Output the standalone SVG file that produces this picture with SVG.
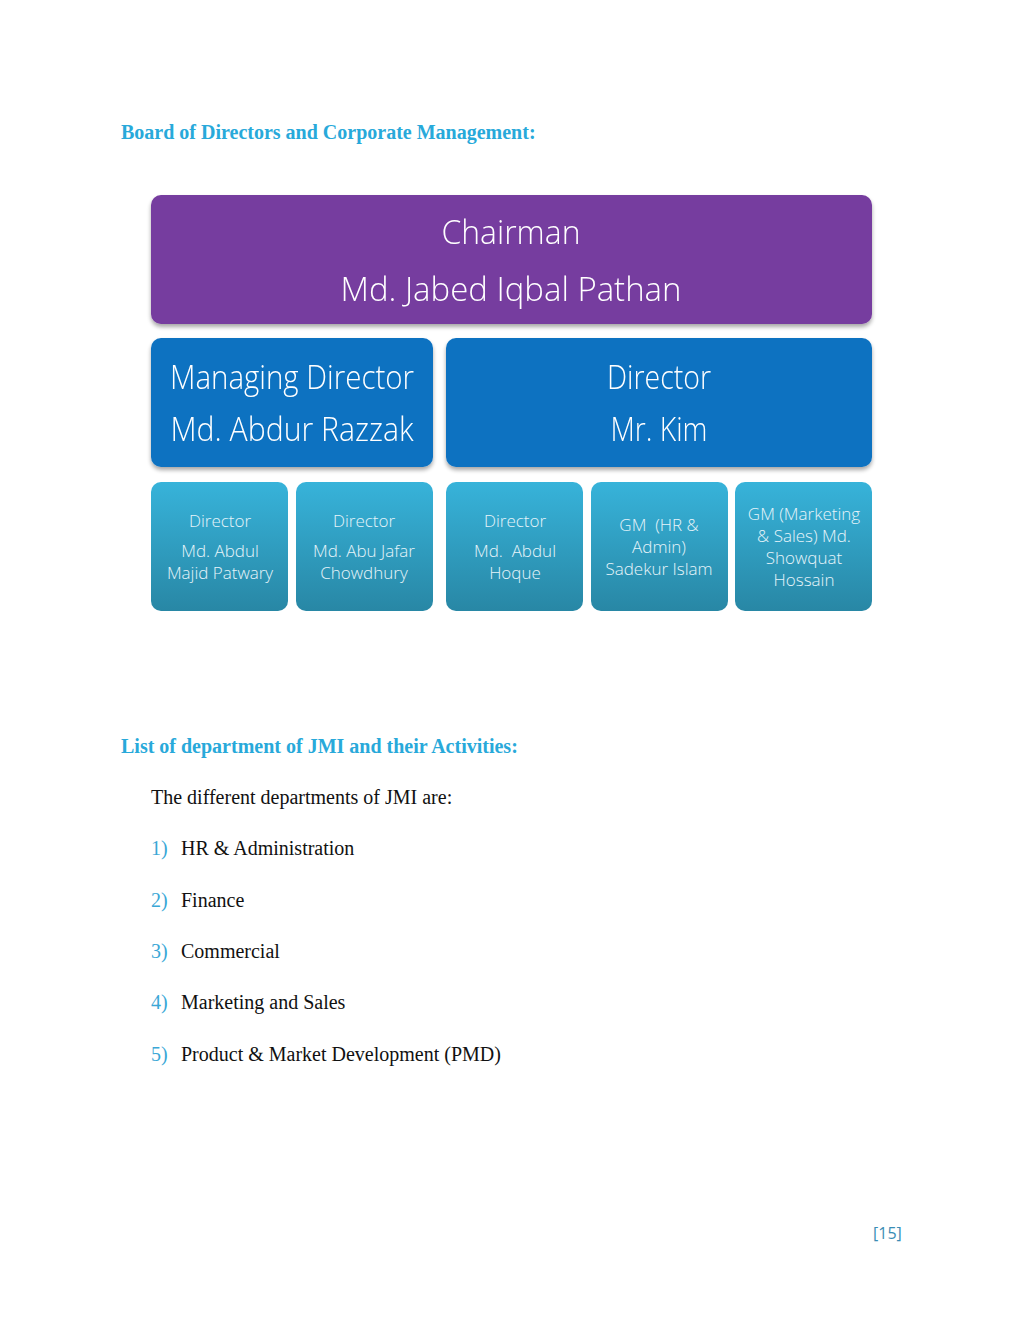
<svg xmlns="http://www.w3.org/2000/svg" width="1024" height="1326" viewBox="0 0 1024 1326">
<defs>
<linearGradient id="gTeal" x1="0" y1="0" x2="0" y2="1">
<stop offset="0" stop-color="#37B3DA"/>
<stop offset="1" stop-color="#2887A5"/>
</linearGradient>
<filter id="sh" x="-5%" y="-10%" width="110%" height="130%">
<feGaussianBlur in="SourceAlpha" stdDeviation="2"/>
<feOffset dx="0" dy="3" result="b"/>
<feComponentTransfer><feFuncA type="linear" slope="0.35"/></feComponentTransfer>
<feMerge><feMergeNode/><feMergeNode in="SourceGraphic"/></feMerge>
</filter>
</defs>
<style>
.head{font-family:"Liberation Serif",serif;font-weight:bold;font-size:20px;fill:#28A9DA}
.body{font-family:"Liberation Serif",serif;font-size:20px;fill:#111}
.num{font-family:"Liberation Serif",serif;font-size:20px;fill:#3AA7D6}
.big{font-family:"Open Sans","Liberation Sans",sans-serif;font-weight:300;font-size:33px;fill:#fff;text-anchor:middle}
.small{font-family:"Open Sans","Liberation Sans",sans-serif;font-weight:300;font-size:17px;fill:#E6F4FA;text-anchor:middle;white-space:pre}
.purple{fill:#763C9F}
.blue{fill:#0E72C1}
.teal{fill:url(#gTeal)}
</style>
<rect width="1024" height="1326" fill="#fff"/>
<text class="head" x="121" y="139">Board of Directors and Corporate Management:</text>
<g id="chairman" filter="url(#sh)">
<rect class="purple" x="151" y="195" width="721" height="129" rx="10"/>
<text class="big" x="511" y="244" textLength="139" lengthAdjust="spacingAndGlyphs">Chairman</text>
<text class="big" x="511" y="301" textLength="341" lengthAdjust="spacingAndGlyphs">Md. Jabed Iqbal Pathan</text>
</g>
<g id="managing-director" filter="url(#sh)">
<rect class="blue" x="151" y="338" width="282" height="129" rx="10"/>
<text class="big" x="292" y="389" textLength="244" lengthAdjust="spacingAndGlyphs">Managing Director</text>
<text class="big" x="292" y="441" textLength="243" lengthAdjust="spacingAndGlyphs">Md. Abdur Razzak</text>
</g>
<g id="director-kim" filter="url(#sh)">
<rect class="blue" x="446" y="338" width="426" height="129" rx="10"/>
<text class="big" x="659" y="389" textLength="104" lengthAdjust="spacingAndGlyphs">Director</text>
<text class="big" x="659" y="441" textLength="97" lengthAdjust="spacingAndGlyphs">Mr. Kim</text>
</g>
<g id="director-patwary">
<rect class="teal" x="151" y="482" width="137" height="129" rx="10"/>
<text class="small" x="220" y="527">Director</text>
<text class="small" x="220" y="557">Md. Abdul</text>
<text class="small" x="220" y="579">Majid Patwary</text>
</g>
<g id="director-chowdhury">
<rect class="teal" x="296" y="482" width="137" height="129" rx="10"/>
<text class="small" x="364" y="527">Director</text>
<text class="small" x="364" y="557">Md. Abu Jafar</text>
<text class="small" x="364" y="579">Chowdhury</text>
</g>
<g id="director-hoque">
<rect class="teal" x="446" y="482" width="137" height="129" rx="10"/>
<text class="small" x="515" y="527">Director</text>
<text class="small" x="515" y="557" xml:space="preserve">Md.  Abdul</text>
<text class="small" x="515" y="579">Hoque</text>
</g>
<g id="gm-hr">
<rect class="teal" x="591" y="482" width="137" height="129" rx="10"/>
<text class="small" x="659" y="531" xml:space="preserve">GM  (HR &amp;</text>
<text class="small" x="659" y="553">Admin)</text>
<text class="small" x="659" y="575">Sadekur Islam</text>
</g>
<g id="gm-marketing">
<rect class="teal" x="735" y="482" width="137" height="129" rx="10"/>
<text class="small" x="804" y="520">GM (Marketing</text>
<text class="small" x="804" y="542">&amp; Sales) Md.</text>
<text class="small" x="804" y="564">Showquat</text>
<text class="small" x="804" y="586">Hossain</text>
</g>
<g id="connectors"></g>
<text class="head" x="121" y="753">List of department of JMI and their Activities:</text>
<text class="body" x="151" y="804">The different departments of JMI are:</text>
<text class="num" x="151" y="855">1)</text><text class="body" x="181" y="855">HR &amp; Administration</text>
<text class="num" x="151" y="907">2)</text><text class="body" x="181" y="907">Finance</text>
<text class="num" x="151" y="958">3)</text><text class="body" x="181" y="958">Commercial</text>
<text class="num" x="151" y="1009">4)</text><text class="body" x="181" y="1009">Marketing and Sales</text>
<text class="num" x="151" y="1061">5)</text><text class="body" x="181" y="1061">Product &amp; Market Development (PMD)</text>
<text x="873" y="1239" font-family="'Open Sans','Liberation Sans',sans-serif" font-size="16" fill="#3A8DB5">[15]</text>
</svg>
